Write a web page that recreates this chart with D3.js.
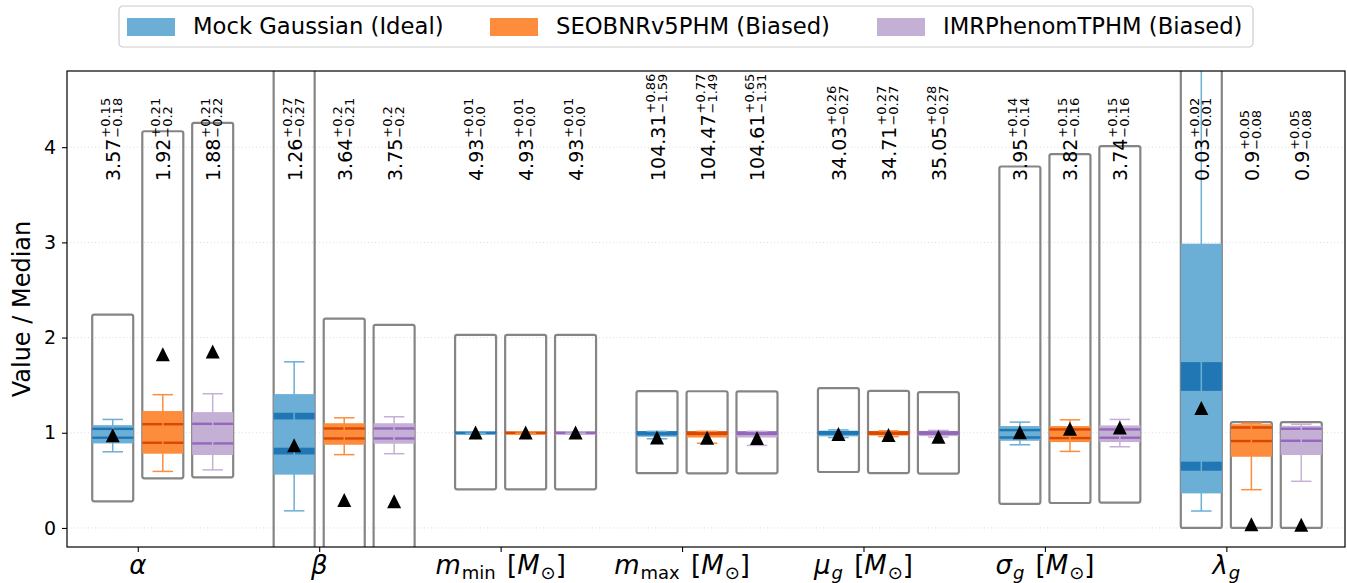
<!DOCTYPE html>
<html><head><meta charset="utf-8">
<script src="https://cdn.jsdelivr.net/npm/d3@7"></script>
<style>
body{margin:0;background:#fff}
svg{display:block}
text{font-family:"DejaVu Sans",sans-serif;fill:#000}
</style>
</head><body>
<svg id="c" width="1347" height="583"></svg>
<script>
// ---------------- DATA ----------------
const categories = ["alpha","beta","m_min","m_max","mu_g","sigma_g","lambda_g"];
const seriesNames = ["Mock Gaussian (Ideal)","SEOBNRv5PHM (Biased)","IMRPhenomTPHM (Biased)"];
const yTicks = [0,1,2,3,4];

// annotation texts (median, +err, -err)
const blueMedian   = ["3.57","1.26","4.93","104.31","34.03","3.95","0.03"];
const bluePlus     = ["0.15","0.27","0.01","0.86","0.26","0.14","0.02"];
const blueMinus    = ["0.18","0.27","0.0","1.59","0.27","0.14","0.01"];
const orangeMedian = ["1.92","3.64","4.93","104.47","34.71","3.82","0.9"];
const orangePlus   = ["0.21","0.2","0.01","0.77","0.27","0.15","0.05"];
const orangeMinus  = ["0.2","0.21","0.0","1.49","0.27","0.16","0.08"];
const purpleMedian = ["1.88","3.75","4.93","104.61","35.05","3.74","0.9"];
const purplePlus   = ["0.21","0.2","0.01","0.65","0.28","0.15","0.05"];
const purpleMinus  = ["0.22","0.2","0.0","1.31","0.27","0.16","0.08"];

// normalised values (value / median)
const bluePriorLo  = [0.28, -3.17, 0.406, 0.575, 0.588, 0.253, 0.0];
const bluePriorHi  = [2.24, 6.35, 2.028, 1.438, 1.469, 3.797, 33.3];
const blueBoxLo    = [0.888, 0.56, 0.995, 0.958, 0.962, 0.916, 0.363];
const blueBoxHi    = [1.08, 1.406, 1.005, 1.007, 1.022, 1.07, 2.986];
const blueUpLo     = [1.032, 1.14, 0.999, 0.998, 1.0, 1.02, 1.44];
const blueUpHi     = [1.05, 1.21, 1.003, 1.012, 1.012, 1.036, 1.742];
const blueDnLo     = [0.94, 0.772, 0.996, 0.98, 0.985, 0.943, 0.601];
const blueDnHi     = [0.956, 0.843, 1.0, 0.99, 0.995, 0.958, 0.696];
const blueWhLo     = [0.80, 0.18, 0.99, 0.937, 0.95, 0.874, 0.178];
const blueWhHi     = [1.14, 1.745, 1.01, 1.015, 1.03, 1.112, 6.0];
const blueTruth    = [0.975, 0.87, 1.003, 0.95, 0.986, 1.005, 1.26];

const orangePriorLo = [0.521, -1.10, 0.406, 0.574, 0.576, 0.262, 0.0];
const orangePriorHi = [4.167, 2.198, 2.028, 1.436, 1.441, 3.927, 1.111];
const orangeBoxLo   = [0.78, 0.874, 0.995, 0.95, 0.97, 0.902, 0.748];
const orangeBoxHi   = [1.228, 1.10, 1.005, 1.007, 1.013, 1.07, 1.09];
const orangeUpLo    = [1.08, 1.035, 0.999, 0.998, 1.0, 1.028, 1.046];
const orangeUpHi    = [1.10, 1.055, 1.003, 1.01, 1.01, 1.042, 1.064];
const orangeDnLo    = [0.885, 0.93, 0.996, 0.983, 0.985, 0.937, 0.903];
const orangeDnHi    = [0.905, 0.95, 1.0, 0.993, 0.995, 0.951, 0.923];
const orangeWhLo    = [0.594, 0.77, 0.99, 0.89, 0.96, 0.804, 0.402];
const orangeWhHi    = [1.40, 1.157, 1.01, 1.015, 1.02, 1.136, 1.10];
const orangeTruth   = [1.825, 0.294, 1.003, 0.947, 0.976, 1.042, 0.04];

const purplePriorLo = [0.532, -1.067, 0.406, 0.574, 0.571, 0.267, 0.0];
const purplePriorHi = [4.255, 2.133, 2.028, 1.434, 1.427, 4.011, 1.111];
const purpleBoxLo   = [0.766, 0.885, 0.995, 0.95, 0.965, 0.902, 0.766];
const purpleBoxHi   = [1.217, 1.10, 1.005, 1.007, 1.02, 1.077, 1.073];
const purpleUpLo    = [1.084, 1.035, 0.999, 0.998, 1.0, 1.028, 1.034];
const purpleUpHi    = [1.104, 1.055, 1.003, 1.01, 1.01, 1.042, 1.05];
const purpleDnLo    = [0.878, 0.93, 0.996, 0.983, 0.985, 0.94, 0.908];
const purpleDnHi    = [0.898, 0.95, 1.0, 0.993, 0.995, 0.956, 0.924];
const purpleWhLo    = [0.61, 0.78, 0.99, 0.867, 0.955, 0.853, 0.49];
const purpleWhHi    = [1.41, 1.168, 1.01, 1.015, 1.025, 1.14, 1.09];
const purpleTruth   = [1.853, 0.28, 1.003, 0.944, 0.958, 1.056, 0.035];

// x tick labels as math parts: it = italic, sub = subscript
const xLabels = [
  [{t:"α",it:1}],
  [{t:"β",it:1}],
  [{t:"m",it:1},{t:"min",sub:1},{t:" ["},{t:"M",it:1},{t:"⊙",sub:1},{t:"]"}],
  [{t:"m",it:1},{t:"max",sub:1},{t:" ["},{t:"M",it:1},{t:"⊙",sub:1},{t:"]"}],
  [{t:"μ",it:1},{t:"g",it:1,sub:1},{t:" ["},{t:"M",it:1},{t:"⊙",sub:1},{t:"]"}],
  [{t:"σ",it:1},{t:"g",it:1,sub:1},{t:" ["},{t:"M",it:1},{t:"⊙",sub:1},{t:"]"}],
  [{t:"λ",it:1},{t:"g",it:1,sub:1}]
];

const series = [
  {name:seriesNames[0], light:"#6baed6", dark:"#2077b4", off:-0.138,
   med:blueMedian, plus:bluePlus, minus:blueMinus,
   pLo:bluePriorLo, pHi:bluePriorHi, bLo:blueBoxLo, bHi:blueBoxHi,
   uLo:blueUpLo, uHi:blueUpHi, dLo:blueDnLo, dHi:blueDnHi,
   wLo:blueWhLo, wHi:blueWhHi, truth:blueTruth},
  {name:seriesNames[1], light:"#fd8d3c", dark:"#d94801", off:0.138,
   med:orangeMedian, plus:orangePlus, minus:orangeMinus,
   pLo:orangePriorLo, pHi:orangePriorHi, bLo:orangeBoxLo, bHi:orangeBoxHi,
   uLo:orangeUpLo, uHi:orangeUpHi, dLo:orangeDnLo, dHi:orangeDnHi,
   wLo:orangeWhLo, wHi:orangeWhHi, truth:orangeTruth},
  {name:seriesNames[2], light:"#c5b0d5", dark:"#9467bd", off:0.413,
   med:purpleMedian, plus:purplePlus, minus:purpleMinus,
   pLo:purplePriorLo, pHi:purplePriorHi, bLo:purpleBoxLo, bHi:purpleBoxHi,
   uLo:purpleUpLo, uHi:purpleUpHi, dLo:purpleDnLo, dHi:purpleDnHi,
   wLo:purpleWhLo, wHi:purpleWhHi, truth:purpleTruth}
];

// ---------------- LAYOUT ----------------
const L = 67, R = 1345, T = 71, B = 547;
const svg = d3.select("#c");
const x = d3.scaleLinear().domain([-0.39, 6.654]).range([L, R]);
const y = d3.scaleLinear().domain([-0.2, 4.8]).range([B, T]);
const bw = x(0.226) - x(0);

svg.append("defs").append("clipPath").attr("id","clip")
  .append("rect").attr("x",L).attr("y",T).attr("width",R-L).attr("height",B-T);

// grid
svg.append("g").selectAll("line").data(yTicks).join("line")
  .attr("x1",L).attr("x2",R).attr("y1",d=>y(d)).attr("y2",d=>y(d))
  .attr("stroke","#d8d8d8").attr("stroke-width",0.9).attr("stroke-dasharray","1,2.5");

const plot = svg.append("g").attr("clip-path","url(#clip)");
const idx = d3.range(categories.length);

series.forEach(s => {
  const g = plot.append("g");
  const cx = i => x(i + s.off);
  g.selectAll(".prior").data(idx).join("rect")
    .attr("x", i => cx(i) - bw/2).attr("width", bw)
    .attr("y", i => y(s.pHi[i])).attr("height", i => y(s.pLo[i]) - y(s.pHi[i]))
    .attr("rx",2).attr("fill","none").attr("stroke","#858585").attr("stroke-width",2.2);
  g.selectAll(".box").data(idx).join("rect")
    .attr("x", i => cx(i) - bw/2).attr("width", bw)
    .attr("y", i => y(s.bHi[i])).attr("height", i => Math.max(2.5, y(s.bLo[i]) - y(s.bHi[i])))
    .attr("fill", s.light);
  [["uLo","uHi"],["dLo","dHi"]].forEach(([lo,hi]) => {
    g.selectAll(".band"+lo).data(idx).join("rect")
      .attr("x", i => cx(i) - bw/2).attr("width", bw)
      .attr("y", i => { const h = y(s[lo][i]) - y(s[hi][i]); return h < 2.4 ? (y(s[lo][i])+y(s[hi][i]))/2 - 1.2 : y(s[hi][i]); })
      .attr("height", i => Math.max(2.4, y(s[lo][i]) - y(s[hi][i])))
      .attr("fill", s.dark);
  });
  g.selectAll(".wh").data(idx).join("line")
    .attr("x1", cx).attr("x2", cx)
    .attr("y1", i => y(s.wLo[i])).attr("y2", i => y(s.wHi[i]))
    .attr("stroke", s.light).attr("stroke-width",1.5);
  ["wLo","wHi"].forEach(k => {
    g.selectAll(".cap"+k).data(idx).join("line")
      .attr("x1", i => cx(i) - bw/4).attr("x2", i => cx(i) + bw/4)
      .attr("y1", i => y(s[k][i])).attr("y2", i => y(s[k][i]))
      .attr("stroke", s.light).attr("stroke-width",1.5);
  });
});

series.forEach(s => {
  plot.append("g").selectAll("path").data(idx).join("path")
    .attr("transform", i => `translate(${x(i + s.off)},${y(s.truth[i])})`)
    .attr("d","M0,-7L7,7L-7,7Z").attr("fill","#000");
});

series.forEach(s => {
  idx.forEach(i => {
    const g = svg.append("g").attr("transform", `translate(${x(i + s.off)},181) rotate(-90)`);
    const m = g.append("text").attr("x",0).attr("y",7.5).attr("font-size",19).text(s.med[i]);
    const w = m.node().getComputedTextLength();
    g.append("text").attr("x",w+1).attr("y",-2.5).attr("font-size",13).text("+"+s.plus[i]);
    g.append("text").attr("x",w+1).attr("y",9.5).attr("font-size",13).text("\u2212"+s.minus[i]);
  });
});

// axes
const yAxis = svg.append("g").attr("transform",`translate(${L},0)`)
  .call(d3.axisLeft(y).tickValues(yTicks).tickFormat(d3.format("d")).tickSize(5).tickPadding(6));
yAxis.select(".domain").remove();
yAxis.selectAll("text").attr("font-size",19).attr("font-family","DejaVu Sans");
yAxis.selectAll("line").attr("stroke","#000").attr("stroke-width",1.1);

const xAxis = svg.append("g").attr("transform",`translate(0,${B})`)
  .call(d3.axisBottom(x).tickValues(idx).tickFormat("").tickSize(5));
xAxis.select(".domain").remove();
xAxis.selectAll("line").attr("stroke","#000").attr("stroke-width",1.1);

svg.append("rect").attr("x",L).attr("y",T).attr("width",R-L).attr("height",B-T)
  .attr("fill","none").attr("stroke","#000").attr("stroke-width",1.2);

// x labels
xLabels.forEach((parts,i) => {
  const t = svg.append("text").attr("x", x(i)).attr("y", 574)
    .attr("text-anchor","middle").attr("font-size",26);
  let shift = 0;
  parts.forEach(p => {
    const target = p.sub ? 4.5 : 0;
    t.append("tspan").attr("dy", target - shift)
      .attr("dx", p.t === " [" ? 3 : (p.sub ? 1 : 0))
      .attr("font-size", p.sub ? 18 : 26)
      .attr("font-style", p.it ? "italic" : "normal")
      .text(p.t);
    shift = target;
  });
});

// y label
svg.append("text").attr("transform",`translate(30,${(T+B)/2}) rotate(-90)`)
  .attr("text-anchor","middle").attr("font-size",24).text("Value / Median");

// legend
const lg = svg.append("g");
lg.append("rect").attr("x",119).attr("y",6).attr("width",1134).attr("height",41).attr("rx",4)
  .attr("fill","#fff").attr("stroke","#cccccc").attr("stroke-width",1.2);
const legX = [127, 490, 877];
series.forEach((s,j) => {
  lg.append("rect").attr("x",legX[j]).attr("y",18).attr("width",48).attr("height",18).attr("fill",s.light);
  lg.append("text").attr("x",legX[j]+66).attr("y",34).attr("font-size",22.7).text(s.name);
});
</script>
</body></html>
